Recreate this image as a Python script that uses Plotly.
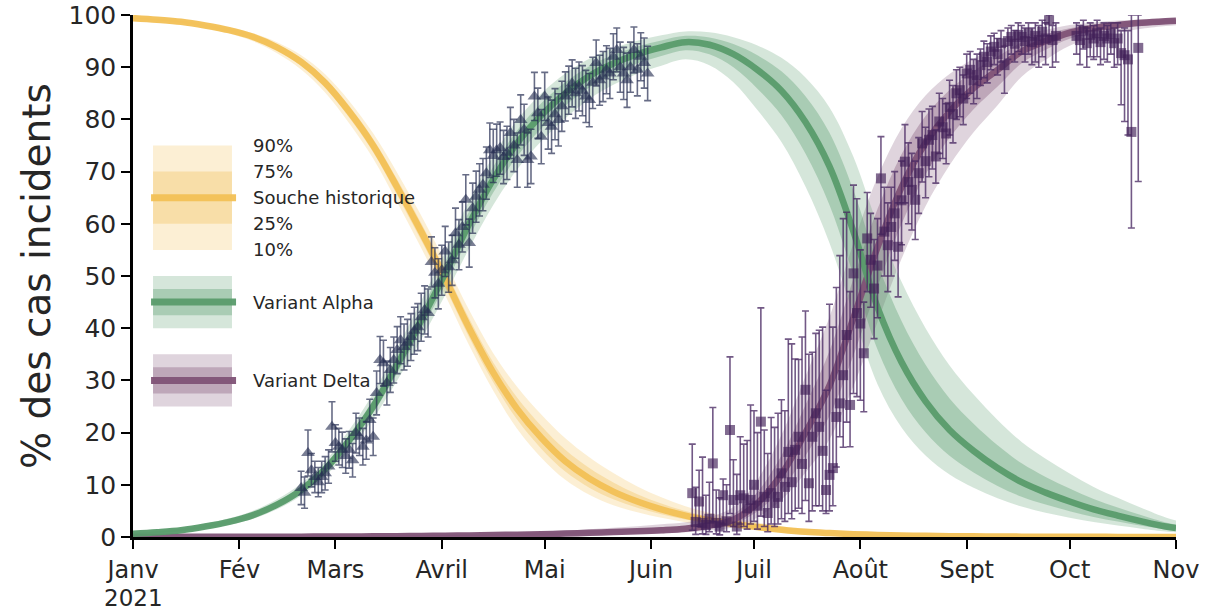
import numpy as np
import pandas as pd
import plotly.graph_objects as go

START = pd.Timestamp("2021-01-01")

# ---- Modelled share of each strain (median, %), weekly, days since 1 Jan 2021
curve_day = [0, 7, 14, 21, 28, 35, 42, 49, 56, 63, 70, 77, 84, 91, 98, 105, 112, 119,
             126, 133, 140, 147, 154, 161, 168, 175, 182, 189, 196, 203, 210, 217, 224,
             231, 238, 245, 252, 259, 266, 273, 280, 287, 294, 301, 304]

hist_median = [99.4, 99.1, 98.7, 98.0, 97.1, 95.8, 93.8, 91.0, 87.0, 81.5, 75.0, 67.0,
               58.5, 49.5, 40.0, 31.5, 24.5, 19.0, 14.5, 11.2, 8.7, 6.8, 5.3, 4.1, 3.2,
               2.5, 1.9, 1.4, 1.0, 0.75, 0.55, 0.4, 0.3, 0.22, 0.16, 0.12, 0.09, 0.07,
               0.05, 0.04, 0.03, 0.02, 0.02, 0.01, 0.01]
alpha_median = [0.6, 0.9, 1.3, 2.0, 2.9, 4.2, 6.2, 9.0, 13.0, 18.5, 25.0, 33.0, 41.5,
                50.5, 60.0, 68.5, 75.5, 80.8, 85.0, 88.3, 90.7, 92.5, 93.8, 94.8, 94.3,
                92.5, 89.5, 85.5, 79.5, 71.0, 58.5, 44.0, 33.5, 26.0, 20.5, 16.5, 13.2,
                10.5, 8.5, 6.8, 5.3, 4.1, 3.0, 2.0, 1.7]
delta_median = [0.02, 0.02, 0.03, 0.03, 0.04, 0.05, 0.06, 0.07, 0.09, 0.11, 0.13, 0.16,
                0.20, 0.25, 0.30, 0.37, 0.45, 0.55, 0.65, 0.80, 0.95, 1.1, 1.3, 1.6, 2.2,
                3.3, 6.5, 12.0, 20.0, 29.0, 42.0, 55.5, 67.0, 75.5, 81.5, 86.0, 89.5,
                93.0, 95.0, 96.6, 97.5, 98.1, 98.5, 98.8, 98.9]

# Spread of the posterior on the logit scale (standard deviation)
hist_sd = [0.16, 0.16, 0.16, 0.16, 0.16, 0.15, 0.14, 0.13, 0.12, 0.11, 0.10, 0.10, 0.10,
           0.10, 0.11, 0.13, 0.17, 0.21, 0.25, 0.28, 0.30, 0.30, 0.30, 0.30, 0.30, 0.30,
           0.30, 0.30, 0.30, 0.30, 0.30, 0.30, 0.30, 0.30, 0.30, 0.30, 0.30, 0.30, 0.30,
           0.30, 0.30, 0.30, 0.30, 0.30, 0.30]
alpha_sd = [0.25, 0.23, 0.21, 0.19, 0.17, 0.15, 0.13, 0.11, 0.10, 0.10, 0.10, 0.11, 0.12,
            0.13, 0.15, 0.17, 0.20, 0.23, 0.26, 0.29, 0.32, 0.35, 0.38, 0.41, 0.44, 0.47,
            0.50, 0.50, 0.50, 0.50, 0.50, 0.50, 0.50, 0.50, 0.50, 0.50, 0.50, 0.50, 0.50,
            0.50, 0.50, 0.50, 0.50, 0.50, 0.50]
delta_sd = [0.50, 0.50, 0.50, 0.50, 0.50, 0.50, 0.50, 0.50, 0.50, 0.50, 0.50, 0.50, 0.50,
            0.50, 0.50, 0.50, 0.50, 0.50, 0.50, 0.50, 0.50, 0.50, 0.50, 0.45, 0.45, 0.45,
            0.45, 0.45, 0.45, 0.45, 0.45, 0.45, 0.45, 0.45, 0.45, 0.45, 0.45, 0.45, 0.45,
            0.45, 0.45, 0.45, 0.45, 0.45, 0.45]

# ---- Observed share of Alpha among sequenced cases (%, +/- error)
alpha_obs_day = [49, 50, 51, 52, 53, 54, 55, 56, 57, 58, 59,
                 60, 61, 62, 63, 64, 65, 66, 67, 68, 69, 70,
                 71, 72, 73, 74, 75, 76, 77, 78, 79, 80, 81,
                 82, 83, 84, 85, 86, 87, 88, 89, 90, 91, 92,
                 93, 94, 95, 96, 97, 98, 99, 100, 101, 102, 103,
                 104, 105, 106, 107, 108, 109, 110, 111, 112, 113, 114,
                 115, 116, 117, 118, 119, 120, 121, 122, 123, 124, 125,
                 126, 127, 128, 129, 130, 131, 132, 133, 134, 135, 136,
                 137, 138, 139, 140, 141, 142, 143, 144, 145, 146, 147,
                 148, 149, 150]
alpha_obs_pct = [9.4, 8.5, 16.1, 12.8, 11.5, 10.5, 11.5, 12.2, 13.5, 21.1, 18.0,
                 17.3, 16.7, 15.5, 16.7, 14.7, 19.9, 19.2, 17.3, 18.5, 22.4, 19.2,
                 27.6, 33.9, 33.3, 29.5, 32.0, 33.9, 35.8, 37.7, 36.4, 37.2, 38.3,
                 39.5, 40.2, 42.1, 43.5, 42.9, 52.7, 50.6, 48.5, 51.1, 54.7, 51.7,
                 53.0, 58.2, 56.0, 59.4, 64.6, 56.3, 63.0, 65.2, 66.5, 67.5, 69.7,
                 74.1, 73.0, 74.1, 74.5, 72.8, 73.6, 77.4, 75.0, 72.2, 79.9, 78.0,
                 72.2, 72.9, 84.4, 81.2, 76.7, 84.4, 79.3, 78.6, 81.0, 79.9, 82.5,
                 84.4, 85.6, 86.9, 85.0, 86.3, 85.5, 84.4, 83.7, 87.0, 90.8, 87.5,
                 88.2, 89.5, 88.8, 92.0, 93.3, 90.0, 88.8, 87.5, 90.0, 93.3, 89.5,
                 92.0, 90.8, 88.8]
alpha_obs_err = [3.2, 3.0, 4.4, 3.2, 3.0, 2.8, 3.0, 3.2, 3.2, 4.8, 3.5,
                 3.5, 3.4, 3.3, 3.5, 3.2, 3.8, 3.6, 3.5, 3.6, 4.0, 3.6,
                 4.2, 4.5, 4.4, 4.2, 4.3, 4.4, 4.5, 4.5, 4.4, 4.5, 4.5,
                 4.5, 4.5, 4.6, 4.6, 4.6, 4.8, 4.8, 4.8, 4.8, 4.8, 4.8,
                 4.8, 4.8, 4.8, 4.8, 4.8, 4.6, 4.8, 4.9, 5.0, 5.0, 5.0,
                 5.2, 5.1, 5.0, 5.0, 5.1, 5.1, 4.9, 5.0, 5.2, 4.8, 4.9,
                 5.2, 5.2, 4.6, 4.8, 5.2, 4.6, 5.0, 5.1, 4.9, 5.0, 4.8,
                 4.7, 4.6, 4.5, 4.8, 4.7, 4.8, 5.0, 5.1, 4.9, 4.4, 4.8,
                 4.8, 4.6, 4.8, 4.4, 4.2, 4.8, 5.0, 5.2, 4.8, 4.4, 5.0,
                 4.6, 4.8, 5.2]

# ---- Observed share of Delta (%, with lower / upper bounds)
delta_obs_day = [163, 164, 165, 166, 167, 168, 169, 170, 171, 172, 173, 174, 175, 176,
                 177, 178, 179, 180, 181, 182, 183, 184, 185, 186, 187, 188, 189, 190,
                 191, 192, 193, 194, 195, 196, 197, 198, 199, 200, 201, 202, 203, 204,
                 205, 206, 207, 208, 209, 210, 211, 212, 213, 214, 215, 216, 217, 218,
                 219, 220, 221, 222, 223, 224, 225, 226, 227, 228, 229, 230, 231, 232,
                 233, 234, 235, 236, 237, 238, 239, 240, 241, 242, 243, 244, 245, 246,
                 247, 248, 249, 250, 251, 252, 253, 254, 255, 256, 257, 258, 259, 260,
                 261, 262, 263, 264, 265, 266, 267, 268, 269,
                 275, 276, 277, 278, 279, 280, 281, 282, 283, 284, 285, 286, 287, 288,
                 289, 290, 291, 293]
delta_obs_pct = [8.4, 2.9, 6.8, 2.7, 2.3, 3.5, 14.1, 2.7, 2.0, 8.0, 3.0, 20.5, 7.1, 2.0,
                 8.0, 7.4, 5.5, 7.1, 10.0, 6.0, 22.1, 7.7, 4.6, 8.4, 6.5, 7.7, 12.2, 9.6,
                 16.3, 10.5, 16.7, 19.2, 14.0, 28.2, 10.3, 19.2, 23.7, 21.1, 16.5, 9.0, 11.9, 13.2,
                 23.0, 25.6, 31.0, 38.7, 25.3, 50.5, 42.9, 40.9, 35.2, 57.2, 53.1, 47.6, 52.0, 68.7,
                 58.5, 55.9, 59.4, 62.0, 55.6, 64.5, 71.9, 68.0, 66.5, 64.6, 69.7, 75.4, 72.0, 76.1,
                 77.0, 72.9, 79.6, 78.5, 77.3, 82.4, 81.0, 85.0, 85.6, 84.0, 88.8, 89.5, 87.5, 88.5,
                 90.4, 92.0, 91.0, 93.0, 93.9, 92.5, 94.6, 90.4, 95.0, 95.8, 94.5, 96.2, 95.8, 95.0,
                 96.5, 94.8, 96.0, 95.2, 96.8, 95.5, 99.0, 95.2, 96.0,
                 96.0, 95.2, 97.0, 94.6, 96.2, 95.5, 96.5, 94.8, 96.0, 95.5, 96.4, 94.6, 95.5, 92.7,
                 92.3, 91.5, 77.6, 93.7]
delta_obs_low = [1.3, 0.5, 2.0, 0.6, 0.5, 1.0, 3.0, 0.6, 0.4, 2.5, 1.0, 4.5, 2.0, 0.5,
                 2.5, 2.0, 1.5, 2.5, 3.0, 1.5, 4.0, 2.0, 1.0, 2.5, 2.0, 2.5, 3.5, 3.0,
                 4.5, 3.5, 5.0, 5.5, 4.5, 7.0, 3.0, 5.0, 6.0, 6.0, 5.0, 4.5, 5.0, 6.0,
                 13.4, 19.2, 17.2, 22.0, 17.3, 27.5, 26.9, 26.2, 24.0, 47.0, 44.0, 38.0, 42.0, 58.0,
                 50.0, 47.0, 50.0, 53.0, 46.0, 56.0, 64.0, 60.0, 58.8, 57.0, 62.0, 68.0, 65.0, 69.0,
                 70.5, 67.8, 73.5, 72.5, 71.5, 77.0, 75.5, 80.0, 80.5, 79.0, 84.0, 85.0, 83.0, 84.0,
                 86.5, 88.0, 87.0, 89.5, 90.5, 88.5, 91.0, 85.0, 91.5, 92.5, 91.0, 93.0, 92.5, 91.0,
                 92.5, 90.5, 91.0, 90.0, 92.0, 90.5, 96.0, 90.0, 91.0,
                 92.5, 90.5, 93.5, 90.0, 92.0, 91.5, 92.0, 90.5, 91.5, 91.0, 92.5, 90.0, 90.5, 82.8,
                 79.6, 77.0, 59.2, 68.1]
delta_obs_high = [17.8, 9.5, 12.8, 15.3, 8.0, 10.5, 24.8, 9.0, 7.5, 11.1, 10.0, 34.5, 14.8, 12.0,
                  19.2, 17.8, 18.5, 25.3, 24.2, 20.0, 43.9, 20.5, 16.0, 22.9, 21.0, 23.7, 26.3, 24.2,
                  37.9, 37.0, 34.1, 34.0, 38.3, 43.3, 35.0, 35.4, 39.0, 39.6, 40.2, 28.1, 44.6, 40.2,
                  47.8, 53.9, 61.0, 62.2, 47.0, 67.4, 64.8, 55.0, 45.0, 66.0, 62.0, 57.0, 61.0, 76.7,
                  67.0, 64.0, 67.0, 70.0, 64.0, 72.0, 79.0, 75.5, 73.5, 72.0, 76.5, 81.5, 78.5, 82.0,
                  82.5, 78.0, 85.0, 84.0, 83.0, 87.5, 86.5, 89.5, 90.0, 88.5, 92.5, 93.0, 91.5, 92.5,
                  93.5, 95.0, 94.5, 96.0, 96.5, 95.5, 97.0, 94.0, 97.5, 98.0, 97.0, 98.5, 98.0, 97.5,
                  98.5, 97.5, 98.5, 98.0, 99.0, 98.5, 100.0, 98.0, 98.5,
                  98.5, 98.0, 99.0, 97.5, 98.5, 98.0, 99.0, 97.5, 98.5, 98.0, 98.5, 97.5, 98.5, 97.0,
                  97.5, 97.0, 100.0, 100.0]

for a, b in [(curve_day, hist_median), (curve_day, alpha_median), (curve_day, delta_median),
             (curve_day, hist_sd), (curve_day, alpha_sd), (curve_day, delta_sd),
             (alpha_obs_day, alpha_obs_pct), (alpha_obs_day, alpha_obs_err),
             (delta_obs_day, delta_obs_pct), (delta_obs_day, delta_obs_low),
             (delta_obs_day, delta_obs_high)]:
    assert len(a) == len(b), (len(a), len(b))

month_ticks = ["2021-01-01", "2021-02-01", "2021-03-01", "2021-04-01", "2021-05-01",
               "2021-06-01", "2021-07-01", "2021-08-01", "2021-09-01", "2021-10-01",
               "2021-11-01"]
month_labels = ["Janv", "Fév", "Mars", "Avril", "Mai", "Juin", "Juil", "Août",
                "Sept", "Oct", "Nov"]
year_label = "2021"
y_ticks = [0, 10, 20, 30, 40, 50, 60, 70, 80, 90, 100]

FONT = "'DejaVu Sans', 'Open Sans', sans-serif"
TEXT = "#262626"

STRAINS = {
    "hist": dict(median=hist_median, sd=hist_sd, rgb=(242, 192, 85), label="Souche historique"),
    "delta": dict(median=delta_median, sd=delta_sd, rgb=(128, 82, 118), label="Variant Delta"),
    "alpha": dict(median=alpha_median, sd=alpha_sd, rgb=(88, 155, 108), label="Variant Alpha"),
}
Z90, Z75 = 1.2816, 0.6745


def to_dates(days):
    return START + pd.to_timedelta(np.asarray(days, dtype=float), unit="D")


def quantile(median, sd, z):
    m = np.clip(np.asarray(median, dtype=float) / 100.0, 1e-7, 1 - 1e-7)
    lg = np.log(m / (1 - m)) + z * np.asarray(sd, dtype=float)
    return 100.0 / (1.0 + np.exp(-lg))


def rgba(rgb, a):
    return "rgba(%d,%d,%d,%.3f)" % (rgb[0], rgb[1], rgb[2], a)


OUTER_A, INNER_A = 0.25, 0.35

fig = go.Figure()
xc = to_dates(curve_day)

# credible bands (10-90 % and 25-75 %)
for key in ["hist", "delta", "alpha"]:
    s = STRAINS[key]
    for z, a in [(Z90, OUTER_A), (Z75, INNER_A)]:
        hi = quantile(s["median"], s["sd"], z)
        lo = quantile(s["median"], s["sd"], -z)
        fig.add_trace(go.Scatter(x=xc, y=hi, mode="lines", line=dict(width=0, shape="spline"),
                                 hoverinfo="skip", showlegend=False))
        fig.add_trace(go.Scatter(x=xc, y=lo, mode="lines", line=dict(width=0, shape="spline"),
                                 fill="tonexty", fillcolor=rgba(s["rgb"], a),
                                 hoverinfo="skip", showlegend=False))

# medians
for key in ["hist", "delta", "alpha"]:
    s = STRAINS[key]
    fig.add_trace(go.Scatter(x=xc, y=s["median"], mode="lines",
                             line=dict(width=6.5, shape="spline", color=rgba(s["rgb"], 0.95)),
                             name=s["label"], showlegend=False))

# observations
fig.add_trace(go.Scatter(
    x=to_dates(alpha_obs_day), y=alpha_obs_pct, mode="markers",
    marker=dict(symbol="triangle-up", size=12, color="rgba(38,46,82,0.62)", line=dict(width=0)),
    error_y=dict(type="data", array=alpha_obs_err, color="rgba(38,46,82,0.7)",
                 thickness=1.6, width=3.5),
    showlegend=False, cliponaxis=False))

d_pct = np.asarray(delta_obs_pct)
fig.add_trace(go.Scatter(
    x=to_dates(delta_obs_day), y=d_pct, mode="markers",
    marker=dict(symbol="square", size=10, color="rgba(66,32,88,0.66)", line=dict(width=0)),
    error_y=dict(type="data", array=np.asarray(delta_obs_high) - d_pct,
                 arrayminus=d_pct - np.asarray(delta_obs_low),
                 color="rgba(74,42,100,0.78)", thickness=1.6, width=3.5),
    showlegend=False, cliponaxis=False))

# hand-drawn key on the left of the plot
shapes = []
annotations = []
KEY_X0, KEY_X1 = 0.0192, 0.0949
LINE_X0, LINE_X1 = 0.0173, 0.0988
TXT_X = 0.113
key_rows = [("hist", 65.0, 10.0), ("alpha", 45.0, 5.0), ("delta", 30.0, 5.0)]
for key, yc, half in key_rows:
    s = STRAINS[key]
    shapes.append(dict(type="rect", xref="paper", yref="y", x0=KEY_X0, x1=KEY_X1,
                       y0=yc - half, y1=yc + half, line=dict(width=0),
                       fillcolor=rgba(s["rgb"], OUTER_A), layer="below"))
    shapes.append(dict(type="rect", xref="paper", yref="y", x0=KEY_X0, x1=KEY_X1,
                       y0=yc - half / 2, y1=yc + half / 2, line=dict(width=0),
                       fillcolor=rgba(s["rgb"], INNER_A), layer="below"))
    shapes.append(dict(type="line", xref="paper", yref="y", x0=LINE_X0, x1=LINE_X1,
                       y0=yc, y1=yc, line=dict(width=7, color=rgba(s["rgb"], 0.95))))
    annotations.append(dict(x=TXT_X, y=yc, xref="paper", yref="y", text=s["label"],
                            showarrow=False, xanchor="left", yanchor="middle",
                            font=dict(family=FONT, size=18, color=TEXT)))
for txt, yv in [("90%", 75.0), ("75%", 70.0), ("25%", 60.0), ("10%", 55.0)]:
    annotations.append(dict(x=TXT_X, y=yv, xref="paper", yref="y", text=txt,
                            showarrow=False, xanchor="left", yanchor="middle",
                            font=dict(family=FONT, size=18, color=TEXT)))

# year under the first month label
annotations.append(dict(x=0.0, y=-0.116, xref="paper", yref="paper", text=year_label,
                        showarrow=False, xanchor="center", yanchor="middle",
                        font=dict(family=FONT, size=23, color=TEXT)))

fig.update_layout(
    width=1206, height=613,
    margin=dict(l=133, r=30, t=15, b=76, autoexpand=False),
    paper_bgcolor="white", plot_bgcolor="white",
    font=dict(family=FONT, color=TEXT),
    shapes=shapes, annotations=annotations,
    showlegend=False,
)
fig.update_xaxes(
    type="date", range=["2021-01-01", "2021-11-01"], automargin=False,
    tickmode="array", tickvals=month_ticks, ticktext=month_labels,
    ticks="outside", ticklen=9, tickwidth=1.5, tickcolor="black",
    showline=True, linecolor="black", linewidth=2.5,
    showgrid=False, zeroline=False, ticklabeloverflow="allow",
    tickfont=dict(family=FONT, size=24, color=TEXT),
)
fig.update_yaxes(
    range=[0, 100], tickmode="array", tickvals=y_ticks, automargin=False,
    ticks="outside", ticklen=9, tickwidth=1.5, tickcolor="black",
    showline=True, linecolor="black", linewidth=2.5,
    showgrid=False, zeroline=False, ticklabeloverflow="allow",
    tickfont=dict(family=FONT, size=25, color=TEXT),
    title=dict(text="% des cas incidents", standoff=6,
               font=dict(family=FONT, size=39, color=TEXT)),
)

fig.write_html("out.html", include_plotlyjs=True, config={"displayModeBar": False})
